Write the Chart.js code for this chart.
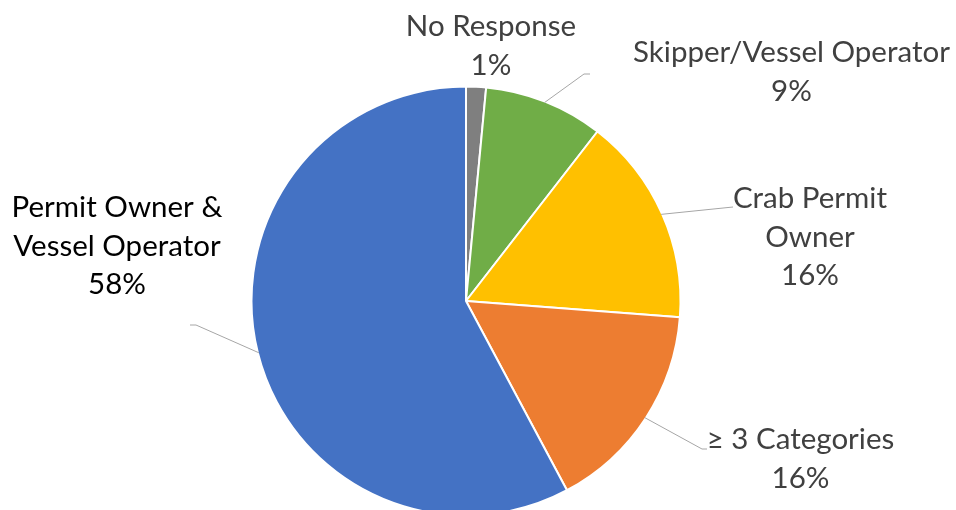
<!DOCTYPE html>
<html><head><meta charset="utf-8">
<script src="https://cdn.jsdelivr.net/npm/chart.js@4/dist/chart.umd.min.js"></script>
<style>html,body{margin:0;padding:0;background:#fff}#wrap{width:956px;height:510px;position:relative}canvas{display:block}</style>
</head><body><div id="wrap"><canvas id="c" width="956" height="510"></canvas></div>
<script>
const categories = ['No Response', 'Skipper/Vessel Operator', 'Crab Permit Owner', '≥ 3 Categories', 'Permit Owner & Vessel Operator'];
const shares = [1.5, 9.0, 15.7, 16.0, 57.8];
const percentLabels = ['1%', '9%', '16%', '16%', '58%'];
const labelNameLines = [['No Response'], ['Skipper/Vessel Operator'], ['Crab Permit', 'Owner'], ['≥ 3 Categories'], ['Permit Owner &', 'Vessel Operator']];
const sliceColors = ['#7F7F7F', '#70AD47', '#FFC000', '#ED7D31', '#4472C4'];

const FONT = '29.5px Lato';
const LINE_H = 38.5;
const labelLayout = [
  {cx: 491, y0: 36, color: '#404040', leader: null},
  {cx: 791.5, y0: 62, color: '#404040', leader: [[584, 74], [590, 74]]},
  {cx: 810, y0: 208, color: '#404040', leader: [[733, 207]]},
  {cx: 800.5, y0: 449, color: '#404040', leader: [[702, 449], [707, 449]]},
  {cx: 117, y0: 217, color: '#000000', leader: [[196, 325], [190, 325]]}
];

const labelPlugin = {
  id: 'outLabels',
  afterDatasetsDraw(chart) {
    const ctx = chart.ctx;
    const meta = chart.getDatasetMeta(0);
    ctx.save();
    meta.data.forEach((arc, i) => {
      const L = labelLayout[i];
      const p = arc.getProps(['x', 'y', 'startAngle', 'endAngle', 'outerRadius'], true);
      if (L.leader) {
        const mid = (p.startAngle + p.endAngle) / 2;
        const r = p.outerRadius - 1;
        ctx.beginPath();
        ctx.moveTo(p.x + Math.cos(mid) * r, p.y + Math.sin(mid) * r);
        L.leader.forEach(pt => ctx.lineTo(pt[0], pt[1]));
        ctx.strokeStyle = '#A6A6A6';
        ctx.lineWidth = 1;
        ctx.stroke();
      }
      const lines = labelNameLines[i].concat([percentLabels[i]]);
      ctx.font = FONT;
      ctx.fillStyle = L.color;
      ctx.textAlign = 'center';
      ctx.textBaseline = 'alphabetic';
      lines.forEach((t, k) => ctx.fillText(t, L.cx, L.y0 + k * LINE_H));
    });
    ctx.restore();
  }
};

new Chart(document.getElementById('c'), {
  type: 'pie',
  data: {
    labels: categories,
    datasets: [{
      data: shares,
      backgroundColor: sliceColors,
      borderColor: '#FFFFFF',
      borderWidth: 2,
      radius: 214.5,
      clip: false
    }]
  },
  options: {
    responsive: false,
    animation: false,
    events: [],
    layout: {padding: {left: 0, right: 24, top: 92, bottom: 0}},
    plugins: {legend: {display: false}, tooltip: {enabled: false}}
  },
  plugins: [labelPlugin]
});
</script>
</body></html>
